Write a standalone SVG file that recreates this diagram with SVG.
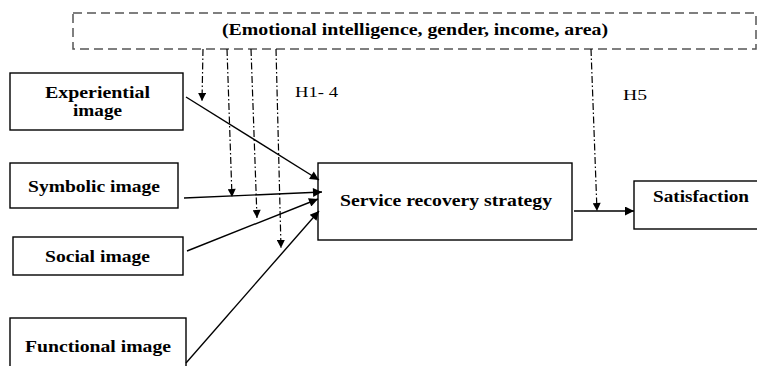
<svg xmlns="http://www.w3.org/2000/svg" width="757" height="366" viewBox="0 0 757 366">
<style>
.box{fill:#fff;stroke:#000;stroke-width:1.4}
.lbl{font-family:"Liberation Serif","Times New Roman",serif;font-weight:bold;font-size:16px;fill:#000}
.h{font-family:"Liberation Serif","Times New Roman",serif;font-size:15px;fill:#000}
.arr{stroke:#000;stroke-width:1.4;fill:none;marker-end:url(#ah)}
.mod{stroke:#000;stroke-width:1.2;fill:none;stroke-dasharray:7 2.5 1.5 2.5;marker-end:url(#ah2)}
</style>
<defs>
<marker id="ah" viewBox="0 0 10 10" refX="10" refY="5" markerWidth="11" markerHeight="9" markerUnits="userSpaceOnUse" orient="auto"><path d="M0,0 L10,5 L0,10 z" fill="#000"/></marker>
<marker id="ah2" viewBox="0 0 10 10" refX="10" refY="5" markerWidth="9" markerHeight="8" markerUnits="userSpaceOnUse" orient="auto"><path d="M0,0 L10,5 L0,10 z" fill="#000"/></marker>
</defs>
<rect width="757" height="366" fill="#fff"/>
<g id="moderators">
<rect x="73" y="13" width="683" height="36" fill="none" stroke="#555" stroke-width="1.5" stroke-dasharray="9 5"/>
<text class="lbl" x="222" y="35" textLength="386" lengthAdjust="spacingAndGlyphs">(Emotional intelligence, gender, income, area)</text>
</g>
<g id="experiential">
<rect class="box" x="10" y="73" width="173" height="57"/>
<text class="lbl" x="45" y="98" textLength="105" lengthAdjust="spacingAndGlyphs">Experiential</text>
<text class="lbl" x="73" y="116" textLength="49" lengthAdjust="spacingAndGlyphs">image</text>
</g>
<g id="symbolic">
<rect class="box" x="10" y="163" width="168" height="45"/>
<text class="lbl" x="28" y="192" textLength="132" lengthAdjust="spacingAndGlyphs">Symbolic image</text>
</g>
<g id="social">
<rect class="box" x="13" y="237" width="170" height="38"/>
<text class="lbl" x="45" y="262" textLength="105" lengthAdjust="spacingAndGlyphs">Social image</text>
</g>
<g id="functional">
<rect class="box" x="10" y="318" width="176" height="60"/>
<text class="lbl" x="25" y="352" textLength="146" lengthAdjust="spacingAndGlyphs">Functional image</text>
</g>
<g id="service">
<rect class="box" x="318" y="163" width="254" height="77"/>
<text class="lbl" x="340" y="206" textLength="212" lengthAdjust="spacingAndGlyphs">Service recovery strategy</text>
</g>
<g id="satisfaction">
<rect class="box" x="634" y="181" width="140" height="48"/>
<text class="lbl" x="653" y="202" textLength="96" lengthAdjust="spacingAndGlyphs">Satisfaction</text>
</g>
<g id="labels">
<text class="h" x="295" y="97" textLength="43" lengthAdjust="spacingAndGlyphs">H1- 4</text>
<text class="h" x="623" y="100" textLength="24" lengthAdjust="spacingAndGlyphs">H5</text>
</g>
<g id="connectors">
<line class="arr" x1="186" y1="97" x2="319" y2="180"/>
<line class="arr" x1="184" y1="198" x2="322" y2="192"/>
<line class="arr" x1="187" y1="251" x2="318" y2="199"/>
<line class="arr" x1="186" y1="363" x2="319" y2="211"/>
<line class="arr" x1="574" y1="211" x2="634" y2="211"/>
<line class="mod" x1="203" y1="49" x2="202" y2="101"/>
<line class="mod" x1="227" y1="49" x2="232" y2="197"/>
<line class="mod" x1="251" y1="49" x2="257" y2="218"/>
<line class="mod" x1="276" y1="49" x2="281" y2="248"/>
<line class="mod" x1="591" y1="49" x2="597" y2="211"/>
</g>
</svg>
